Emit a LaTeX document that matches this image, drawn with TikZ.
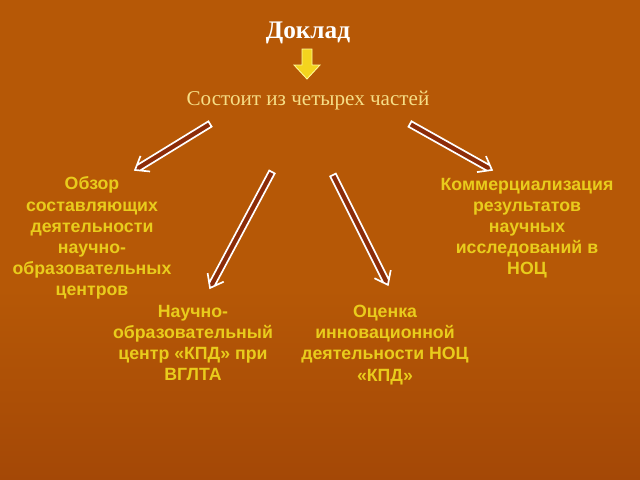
\documentclass[tikz,border=0pt]{standalone}
\usepackage{fontspec}
\setmainfont{Liberation Serif}
\newfontfamily\partfont{Liberation Sans}
\usetikzlibrary{calc}
\definecolor{bgtop}{HTML}{8A3E02}
\definecolor{bgmid}{HTML}{B65806}
\definecolor{bgbot}{HTML}{8E3407}
\definecolor{shaftfill}{HTML}{8C2C08}
\definecolor{partyellow}{HTML}{E9CC1C}
\definecolor{subyellow}{HTML}{F6DE86}
\definecolor{downyellow}{HTML}{F4D41E}
% background: dark top edge, orange middle, red-brown bottom
\pgfdeclareverticalshading{slide}{100bp}{color(0bp)=(bgbot); color(45bp)=(bgmid); color(88bp)=(bgmid); color(100bp)=(bgtop)}
\tikzset{
	part/.style={font=\partfont\bfseries\fontsize{12.6}{15}\selectfont, text=partyellow, align=center, inner sep=0pt},
	outline/.style={draw=white, line width=1.2pt, line join=miter}
}
\newcommand{\hollowarrow}[2] % from, to
{
	% shaft 4.4pt wide, open head 13pt wide, 8.5pt long
	\fill[shaftfill] let \p1 = ($(#2)-(#1)$), \n1 = {atan2(\y1,\x1)}, \n2 = {veclen(\x1,\y1)} in
		[shift={(#1)}, rotate=\n1] (0pt,2.2pt) -- ({\n2-2.9pt},2.2pt) -- (\n2,0pt) -- ({\n2-2.9pt},-2.2pt) -- (0pt,-2.2pt) -- cycle;
	\draw[outline] let \p1 = ($(#2)-(#1)$), \n1 = {atan2(\y1,\x1)}, \n2 = {veclen(\x1,\y1)} in
		[shift={(#1)}, rotate=\n1] ({\n2-2.9pt},2.2pt) -- (0pt,2.2pt) -- (0pt,-2.2pt) -- ({\n2-2.9pt},-2.2pt)
		({\n2-8.5pt},6.5pt) -- (\n2,0pt) -- ({\n2-8.5pt},-6.5pt);
}

\begin{document}
\begin{tikzpicture}[x=0.025cm, y=-0.025cm]
	% slide 640 x 480 px
	\shade[shading=slide] (0,0) rectangle (640,480);
	\useasboundingbox (0,0) rectangle (640,480);
	
	\node (doklad) at (308,33) {\fontsize{18}{20}\selectfont\bfseries\color{white}Доклад};
	% yellow block arrow
	\draw[draw=yellow!40, fill=downyellow, line width=0.6pt] (302,49) -- (312,49) -- (312,65) -- (320,65) -- (307,79) -- (294,65) -- (302,65) -- cycle;
	\node (sostoit) at (308,101) {\fontsize{15}{18}\selectfont\color{subyellow}Состоит из четырех частей};
	
	\node[part] (obzor) at (92,238) {Обзор\\составляющих\\деятельности\\научно-\\образовательных\\центров};
	\node[part] (kommerc) at (527,228) {Коммерциализация\\результатов\\научных\\исследований в\\НОЦ};
	\node[part] (centr) at (193,343) {Научно-\\образовательный\\центр «КПД» при\\ВГЛТА};
	\node[part] (ocenka) at (385,345) {Оценка\\инновационной\\деятельности НОЦ\\«КПД»};
	
	\coordinate (s1) at (210,124);
	\coordinate (e1) at (135,170);
	\coordinate (s2) at (410,124);
	\coordinate (e2) at (492,170);
	\coordinate (s3) at (272,172);
	\coordinate (e3) at (210,288);
	\coordinate (s4) at (333,175);
	\coordinate (e4) at (388,285);
	\hollowarrow{s1}{e1};
	\hollowarrow{s2}{e2};
	\hollowarrow{s3}{e3};
	\hollowarrow{s4}{e4};
\end{tikzpicture}
\end{document}
